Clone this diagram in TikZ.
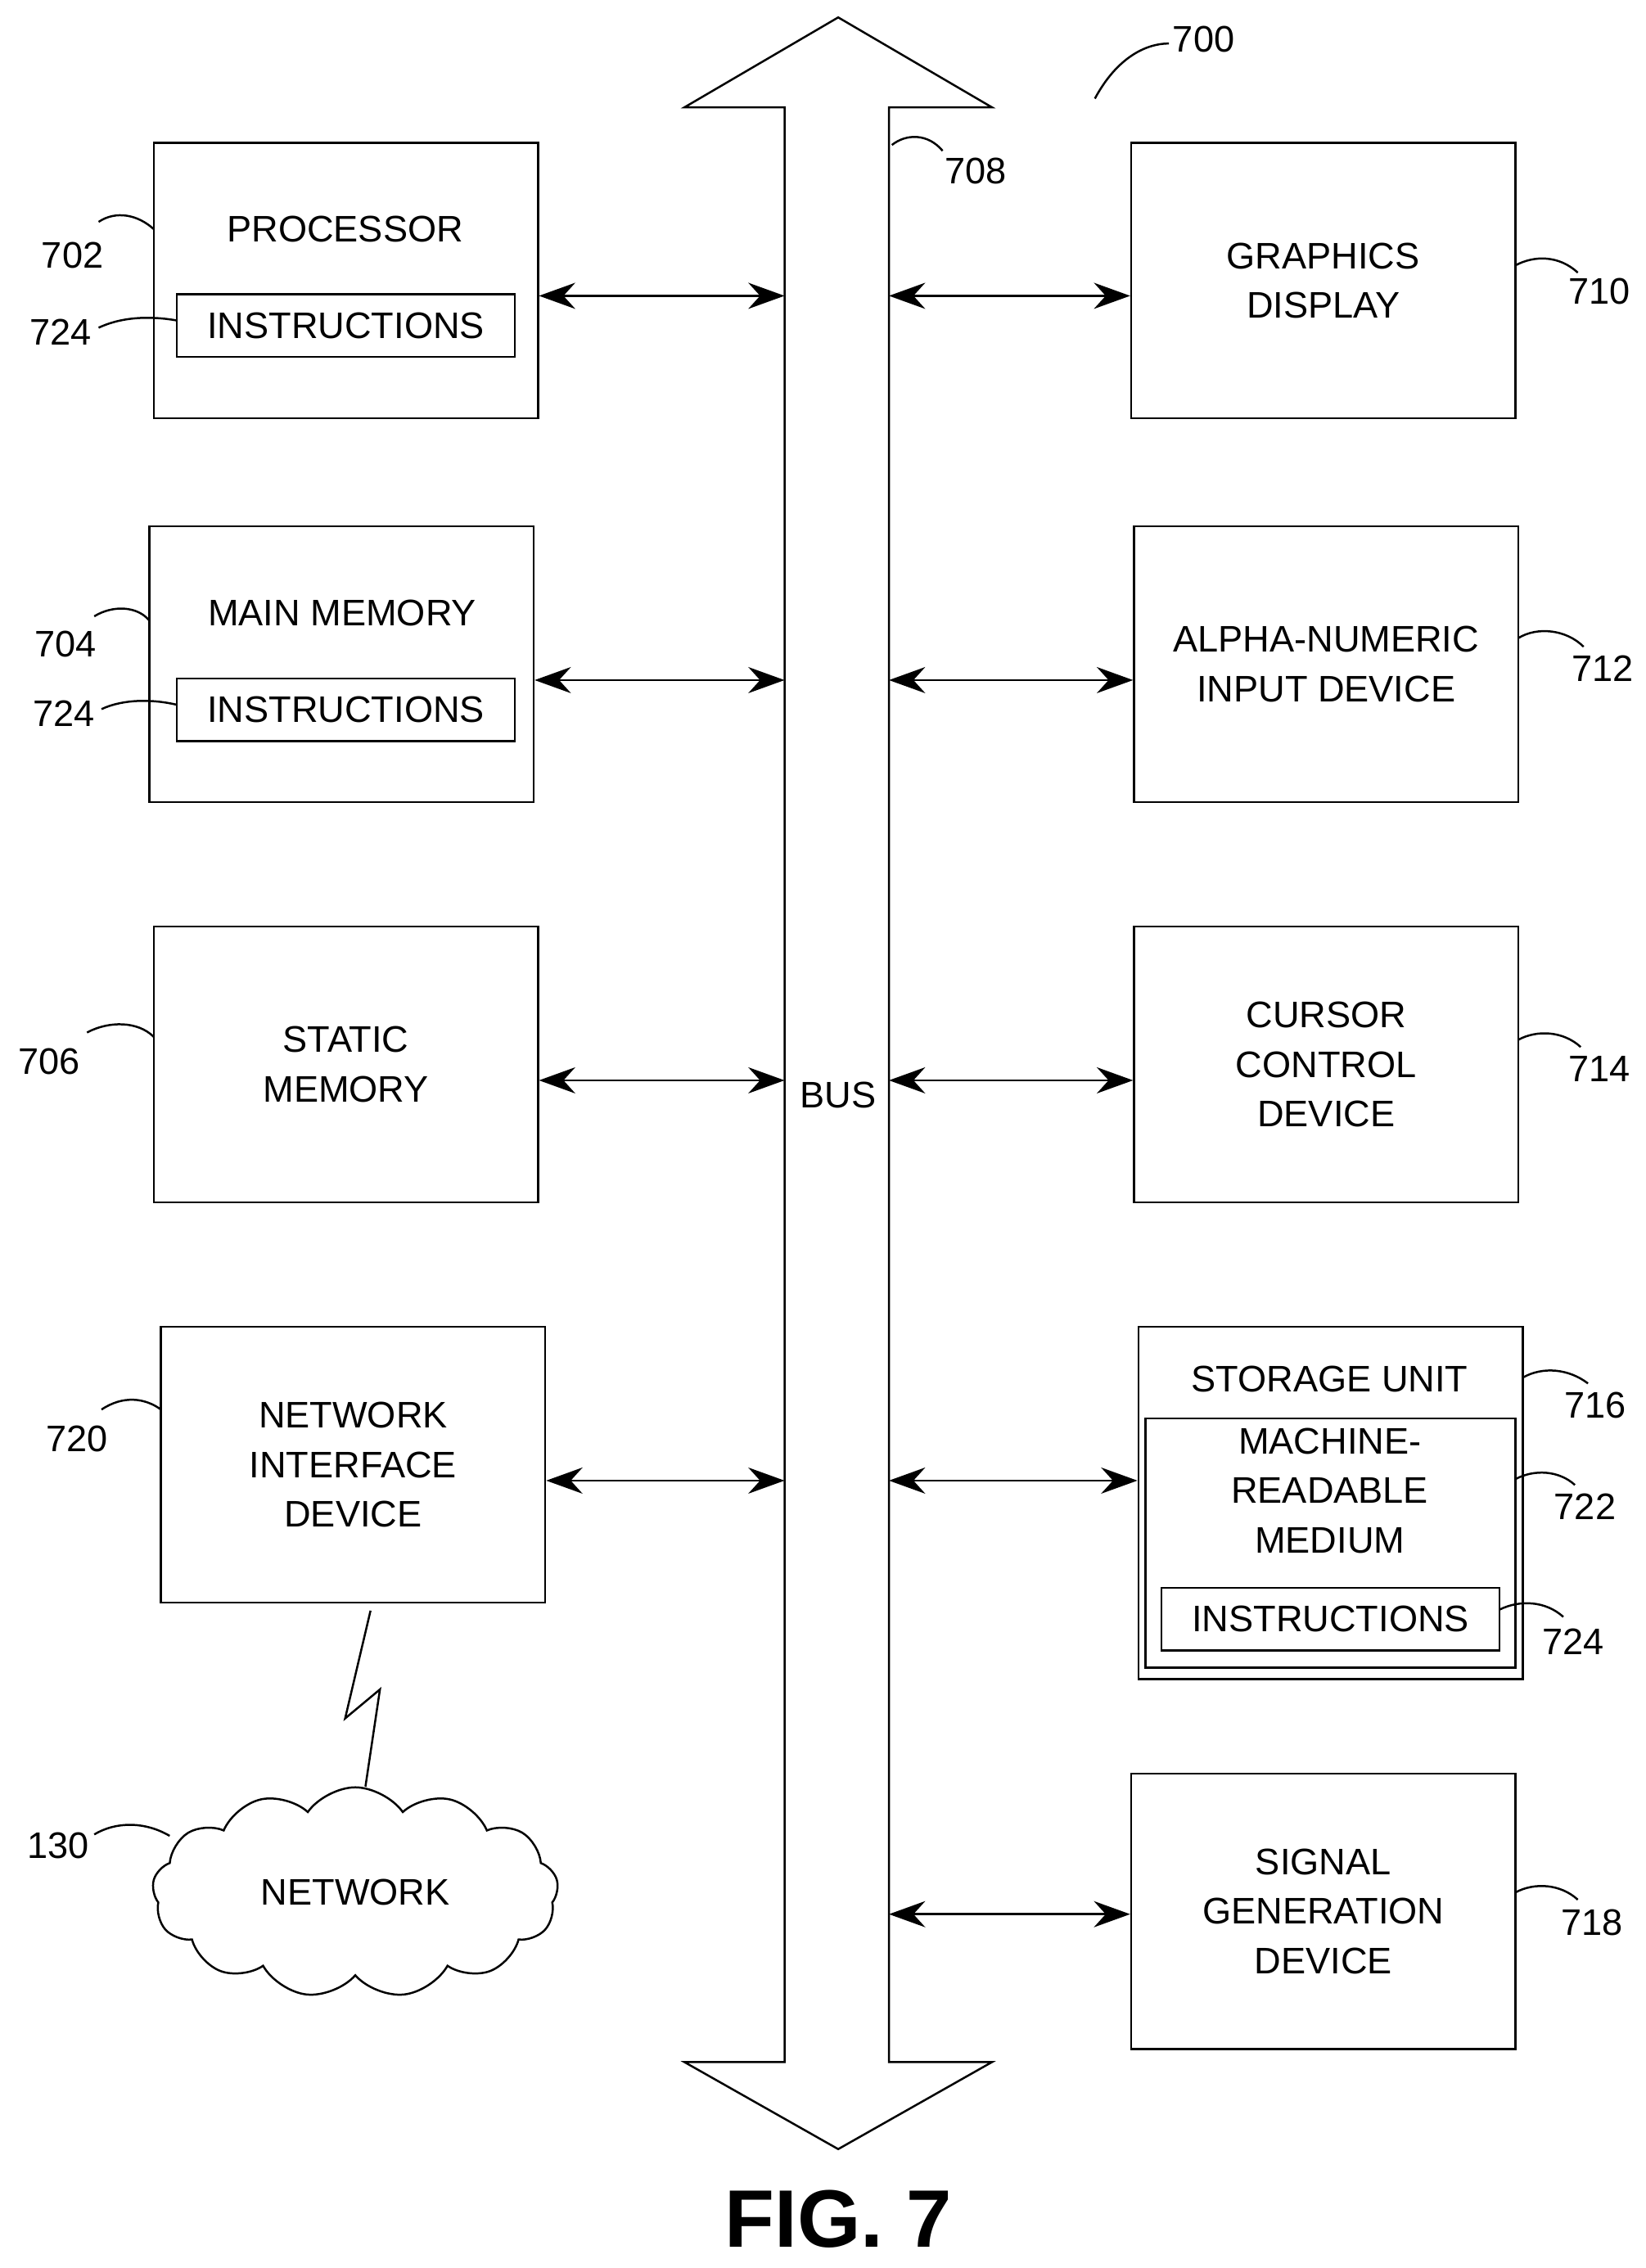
\documentclass[tikz,border=0pt]{standalone}
\usepackage{fontspec}
\setmainfont{Liberation Sans}
\usetikzlibrary{arrows.meta,shapes.symbols}
\begin{document}
\begin{tikzpicture}
   [x=0.02cm, y=-0.02cm,
   unitbox/.style={rectangle, draw=black, thick, fill=white, minimum width=5.3cm, minimum height=3.8cm, align=center, font=\fontsize{14.5}{19.5}\selectfont},
   instbox/.style={rectangle, draw=black, thick, minimum width=4.66cm, minimum height=0.86cm, inner sep=0pt, font=\fontsize{14.5}{19.5}\selectfont},
   txt/.style={align=center, font=\fontsize{14.5}{19.5}\selectfont},
   refnum/.style={font=\fontsize{14.5}{17}\selectfont},
   lead/.style={thick},
   link/.style={thick, {Stealth[length=5mm,width=3.6mm]}-{Stealth[length=5mm,width=3.6mm]}},
   ]
 \useasboundingbox (0,0) rectangle (1135,1564);
 % bus
 \draw[thick, fill=white] (541,74) -- (472,74) -- (578,12) -- (684,74) -- (613,74) -- (613,1422)
   -- (684,1422) -- (578,1482) -- (472,1422) -- (541,1422) -- cycle;
 \node[txt] (bus) at (578,755) {BUS};
 % left side
 \node[unitbox] (proc) at (238.5,193.5) {};
 \node[txt] (proct) at (238,158) {PROCESSOR};
 \node[instbox] (inst1) at (238.5,224.5) {INSTRUCTIONS};
 \node[unitbox] (mem) at (235.5,458) {};
 \node[txt] (memt) at (236,423) {MAIN MEMORY};
 \node[instbox] (inst2) at (238.5,489.5) {INSTRUCTIONS};
 \node[unitbox] (smem) at (238.5,734) {STATIC\\MEMORY};
 \node[unitbox] (nid) at (243.5,1010) {NETWORK\\INTERFACE\\DEVICE};
 \node[cloud, draw=black, thick, cloud puffs=13, cloud puff arc=110, aspect=2, minimum width=5.6cm, minimum height=2.9cm, txt] (net) at (245,1305) {NETWORK};
 % right side
 \node[unitbox] (gfx) at (912.5,193.5) {GRAPHICS\\DISPLAY};
 \node[unitbox] (alpha) at (914.5,458) {ALPHA-NUMERIC\\INPUT DEVICE};
 \node[unitbox] (cur) at (914.5,734) {CURSOR\\CONTROL\\DEVICE};
 \node[rectangle, draw=black, thick, minimum width=5.3cm, minimum height=4.86cm] (stor) at (917.5,1036.5) {};
 \node[txt] (stort) at (917,951) {STORAGE UNIT};
 \node[rectangle, draw=black, thick, minimum width=5.1cm, minimum height=3.44cm] (mrm) at (917.5,1064) {};
 \node[txt] (mrmt) at (917,1028) {MACHINE-\\READABLE\\MEDIUM};
 \node[instbox] (inst3) at (917.5,1116.5) {INSTRUCTIONS};
 \node[unitbox] (sig) at (912.5,1318) {SIGNAL\\GENERATION\\DEVICE};
 % bus links
 \foreach \b/\y in {proc/204, mem/469, smem/745, nid/1021}
   \draw[link] (\b.east |- 0,\y) -- (541,\y);
 \foreach \b/\y in {gfx/204, alpha/469, cur/745, stor/1021, sig/1320}
   \draw[link] (613,\y) -- (\b.west |- 0,\y);
 % wireless link
 \draw[thick] (nid.south) ++(12,5) -- (238,1185) -- (262,1165) -- (252,1232);
 % reference numerals
 \node[refnum] (n700) at (830,27) {700};
 \draw[lead] (755,68) .. controls (770,40) and (790,30) .. (806,30);
 \node[refnum] (n708) at (673,118) {708};
 \draw[lead] (615,100) .. controls (625,92) and (640,92) .. (650,104);
 \node[refnum] (n702) at (50,176) {702};
 \draw[lead] (68,153) .. controls (80,145) and (95,148) .. (106,158);
 \node[refnum] (n724a) at (42,229) {724};
 \draw[lead] (68,226) .. controls (85,218) and (105,218) .. (122,221);
 \node[refnum] (n704) at (45,444) {704};
 \draw[lead] (65,425) .. controls (78,417) and (95,418) .. (103,428);
 \node[refnum] (n724b) at (44,492) {724};
 \draw[lead] (70,489) .. controls (85,482) and (105,482) .. (122,486);
 \node[refnum] (n706) at (34,732) {706};
 \draw[lead] (60,712) .. controls (75,704) and (95,704) .. (106,715);
 \node[refnum] (n720) at (53,992) {720};
 \draw[lead] (70,972) .. controls (85,962) and (100,964) .. (111,972);
 \node[refnum] (n130) at (40,1273) {130};
 \draw[lead] (65,1265) .. controls (80,1256) and (100,1256) .. (117,1266);
 \node[refnum] (n710) at (1103,201) {710};
 \draw[lead] (1045,183) .. controls (1058,176) and (1075,176) .. (1088,188);
 \node[refnum] (n712) at (1105,461) {712};
 \draw[lead] (1047,440) .. controls (1060,432) and (1080,434) .. (1092,446);
 \node[refnum] (n714) at (1103,737) {714};
 \draw[lead] (1047,717) .. controls (1060,710) and (1078,711) .. (1090,722);
 \node[refnum] (n716) at (1100,969) {716};
 \draw[lead] (1050,950) .. controls (1064,942) and (1082,944) .. (1095,954);
 \node[refnum] (n722) at (1093,1039) {722};
 \draw[lead] (1045,1020) .. controls (1058,1013) and (1075,1014) .. (1086,1024);
 \node[refnum] (n724c) at (1085,1132) {724};
 \draw[lead] (1034,1110) .. controls (1048,1103) and (1066,1104) .. (1078,1115);
 \node[refnum] (n718) at (1098,1326) {718};
 \draw[lead] (1045,1305) .. controls (1058,1298) and (1076,1299) .. (1088,1310);
 % caption
 \node[font=\bfseries\fontsize{32}{36}\selectfont] (fig) at (578,1530) {FIG. 7};
\end{tikzpicture}
\end{document}
